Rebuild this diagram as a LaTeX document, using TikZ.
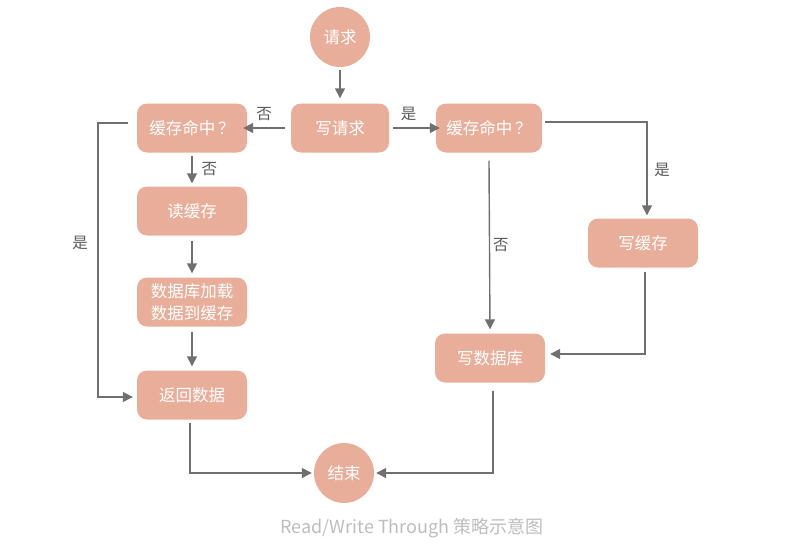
\documentclass[tikz,border=0pt]{standalone}
\usepackage{fontspec}
\newfontfamily\cjk{Noto Sans CJK SC}
\usetikzlibrary{arrows.meta}
\definecolor{boxfill}{HTML}{E8AE9A}
\definecolor{linegray}{HTML}{707070}
\definecolor{capgray}{HTML}{BDBDBD}
\tikzset{
  stepbox/.style={draw=none, fill=boxfill, rounded corners=10pt, text=white,
    minimum width=110pt, minimum height=49pt, align=center,
    font=\cjk\fontsize{16.5}{19}\selectfont},
  endpoint/.style={circle, fill=boxfill, text=white, minimum size=60pt, inner sep=0pt,
    font=\cjk\fontsize{16.5}{18}\selectfont},
  flow/.style={draw=linegray, line width=1.4pt,
    -{Triangle[length=10pt,width=10pt,fill=linegray]}},
  lbl/.style={text=linegray!80!black, font=\cjk\fontsize{15.5}{16}\selectfont, inner sep=1pt}
}
\begin{document}
\begin{tikzpicture}[x=1pt,y=-1pt]
\useasboundingbox (0,0) rectangle (787,544);

% nodes
\node[endpoint] (req) at (340,37) {请求};
\node[stepbox, minimum width=98pt] (wreq) at (340,128) {写请求};
\node[stepbox] (hitL) at (192,128) {缓存命中\,？};
\node[stepbox, minimum width=106pt] (hitR) at (489,128) {缓存命中\,？};
\node[stepbox] (rcache) at (192,211) {读缓存};
\node[stepbox, font=\cjk\fontsize{16.5}{22}\selectfont] (load) at (192,302) {数据库加载\\数据到缓存};
\node[stepbox] (ret) at (192,395) {返回数据};
\node[stepbox] (wcache) at (643,243) {写缓存};
\node[stepbox] (wdb) at (490,358) {写数据库};
\node[endpoint] (fin) at (344,473) {结束};

% helper points for bent connectors
\coordinate (lT) at (128,123);
\coordinate (lB) at (98,397);
\coordinate (rT) at (545,122);
\coordinate (rC) at (647,122);

% connectors
\draw[flow] ([yshift=-3pt]req.south) -- ([yshift=5pt]wreq.north);
\draw[flow] ([xshift=-6pt]wreq.west) -- ([xshift=-4pt]hitL.east) node[lbl, midway, above=6pt] {否};
\draw[flow] ([xshift=4pt]wreq.east) -- ([xshift=4pt]hitR.west) node[lbl, midway, above=6pt, xshift=-8pt] {是};
\draw[flow] ([yshift=-3pt]hitL.south) -- ([yshift=3pt]rcache.north) node[lbl, midway, right=8pt] {否};
\draw[flow] (lT) -| (lB) -- ([xshift=-4pt]ret.west |- lB);
\node[lbl] at (80,243) {是};
\draw[flow] ([yshift=-5pt]rcache.south) -- ([yshift=4pt]load.north);
\draw[flow] ([yshift=-5pt]load.south) -- ([yshift=4pt]ret.north);
\draw[flow] ([xshift=-2pt,yshift=-3pt]ret.south) |- ([xshift=-2pt]fin.west);
\draw[flow] (rT) -- (rC) -- ([xshift=4pt,yshift=3pt]wcache.north);
\node[lbl] at (662,170) {是};
\draw[flow] ([yshift=-8pt]hitR.south) -- ([yshift=4pt]wdb.north) node[lbl, pos=0.5, right=2pt] {否};
\draw[flow] ([xshift=2pt,yshift=-4pt]wcache.south) |- ([xshift=5pt,yshift=4pt]wdb.east);
\draw[flow] ([xshift=3pt,yshift=-8pt]wdb.south) |- ([xshift=2pt]fin.east);

% caption
\node[text=capgray, font=\cjk\fontsize{18}{21}\selectfont] (cap) at (412,528) {Read/Write Through 策略示意图};
\end{tikzpicture}
\end{document}
